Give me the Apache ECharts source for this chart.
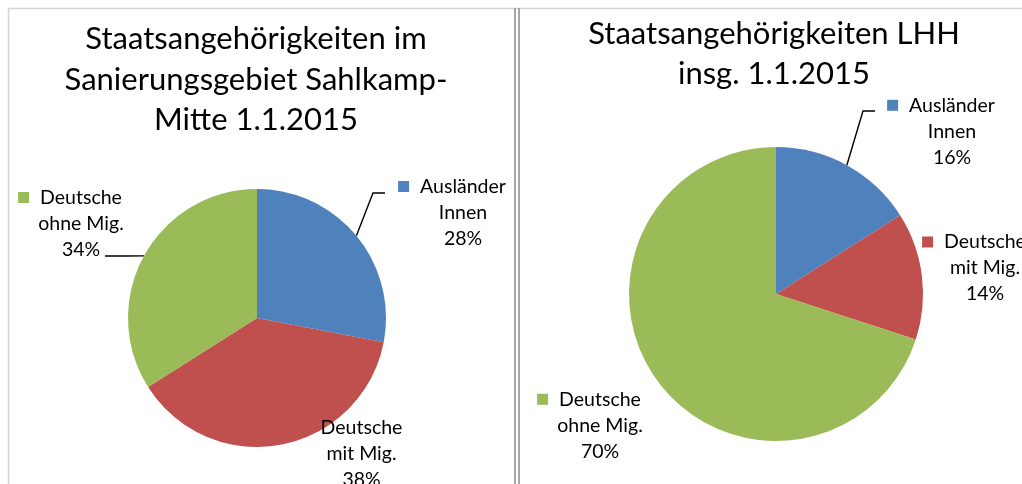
<!DOCTYPE html>
<html>
<head>
<meta charset="utf-8">
<script src="https://cdn.jsdelivr.net/npm/echarts@6/dist/echarts.min.js"></script>
<style>
    html, body { margin: 0; padding: 0; background: #fff; }
    #chart { width: 1022px; height: 484px; }
</style>
</head>
<body>
<div id="chart"></div>
<script>
// Daten
var categories = ['Ausländer Innen', 'Deutsche mit Mig.', 'Deutsche ohne Mig.'];
var sahlkampValues = [28, 38, 34];
var lhhValues = [16, 14, 70];
var sahlkampTitle = 'Staatsangehörigkeiten im\nSanierungsgebiet Sahlkamp-\nMitte 1.1.2015';
var lhhTitle = 'Staatsangehörigkeiten LHH\ninsg. 1.1.2015';

var sliceColors = ['#4F81BD', '#C0504D', '#9BBB59'];
var fontFamily = 'Lato, "Open Sans", sans-serif';

// Lage der Beschriftungen (Mitte, Oberkante) und Knick/Ende der Führungslinie
var sahlkampLabels = [
    { x: 463, y: 173.5, line: [[373, 193], [385, 193]] },
    { x: 361.5, y: 414.5 },
    { x: 81, y: 184.5, line: [[125, 256], [105, 256]] }
];
var lhhLabels = [
    { x: 952, y: 92.3, line: [[863, 111], [875, 111]] },
    { x: 985, y: 229 },
    { x: 600, y: 386.3 }
];

function buildData(values, spots) {
    return values.map(function (v, i) {
        return {
            name: categories[i],
            value: v,
            itemStyle: { color: sliceColors[i] },
            labelLine: { show: !!spots[i].line },
            label: {
                rich: {
                    sq: { width: 11, height: 11, backgroundColor: sliceColors[i] }
                }
            }
        };
    });
}

function labelText(params) {
    var parts = params.name.split(' ');
    var first = parts.shift();
    return '{sq|}{gap|}{t|' + first + '}{pad|}\n{t|' + parts.join(' ') + '}\n{t|' + Math.round(params.percent) + '%}';
}

function layoutFor(spots) {
    return function (params) {
        var s = spots[params.dataIndex];
        var res = { x: s.x, y: s.y, align: 'center', verticalAlign: 'top' };
        if (s.line && params.labelLinePoints) {
            res.labelLinePoints = [params.labelLinePoints[0], s.line[0], s.line[1]];
        }
        return res;
    };
}

function pieSeries(name, values, spots, center, radius) {
    return {
        name: name,
        type: 'pie',
        center: center,
        radius: radius,
        startAngle: 90,
        clockwise: true,
        avoidLabelOverlap: false,
        animation: false,
        data: buildData(values, spots),
        label: {
            show: true,
            position: 'outside',
            formatter: labelText,
            align: 'center',
            rich: {
                gap: { width: 11 },
                pad: { width: 22 },
                t: { fontFamily: fontFamily, fontSize: 19.5, lineHeight: 26, color: '#000' }
            }
        },
        labelLine: {
            show: true,
            lineStyle: { color: '#000', width: 1.4 }
        },
        labelLayout: layoutFor(spots),
        emphasis: { disabled: true }
    };
}

var chart = echarts.init(document.getElementById('chart'));
var option = {
    backgroundColor: '#fff',
    title: [
        {
            text: sahlkampTitle,
            left: 256,
            top: 19,
            padding: 0,
            textAlign: 'center',
            textStyle: { fontFamily: fontFamily, fontSize: 31, fontWeight: 'normal', color: '#000', lineHeight: 40.5 }
        },
        {
            text: lhhTitle,
            left: 774,
            top: 14,
            padding: 0,
            textAlign: 'center',
            textStyle: { fontFamily: fontFamily, fontSize: 31, fontWeight: 'normal', color: '#000', lineHeight: 40 }
        }
    ],
    graphic: [
        { type: 'line', shape: { x1: 8, y1: 8.5, x2: 1022, y2: 8.5 }, style: { stroke: '#d4d4d4', lineWidth: 1.5 } },
        { type: 'line', shape: { x1: 8.5, y1: 8, x2: 8.5, y2: 484 }, style: { stroke: '#d4d4d4', lineWidth: 1.5 } },
        { type: 'line', shape: { x1: 515, y1: 8, x2: 515, y2: 484 }, style: { stroke: '#a6a6a6', lineWidth: 2 } },
        { type: 'line', shape: { x1: 519, y1: 8, x2: 519, y2: 484 }, style: { stroke: '#a6a6a6', lineWidth: 2 } }
    ],
    series: [
        pieSeries('Sahlkamp-Mitte', sahlkampValues, sahlkampLabels, [257, 318], 129),
        pieSeries('LHH', lhhValues, lhhLabels, [776, 294], 147)
    ]
};
chart.setOption(option);
</script>
</body>
</html>
